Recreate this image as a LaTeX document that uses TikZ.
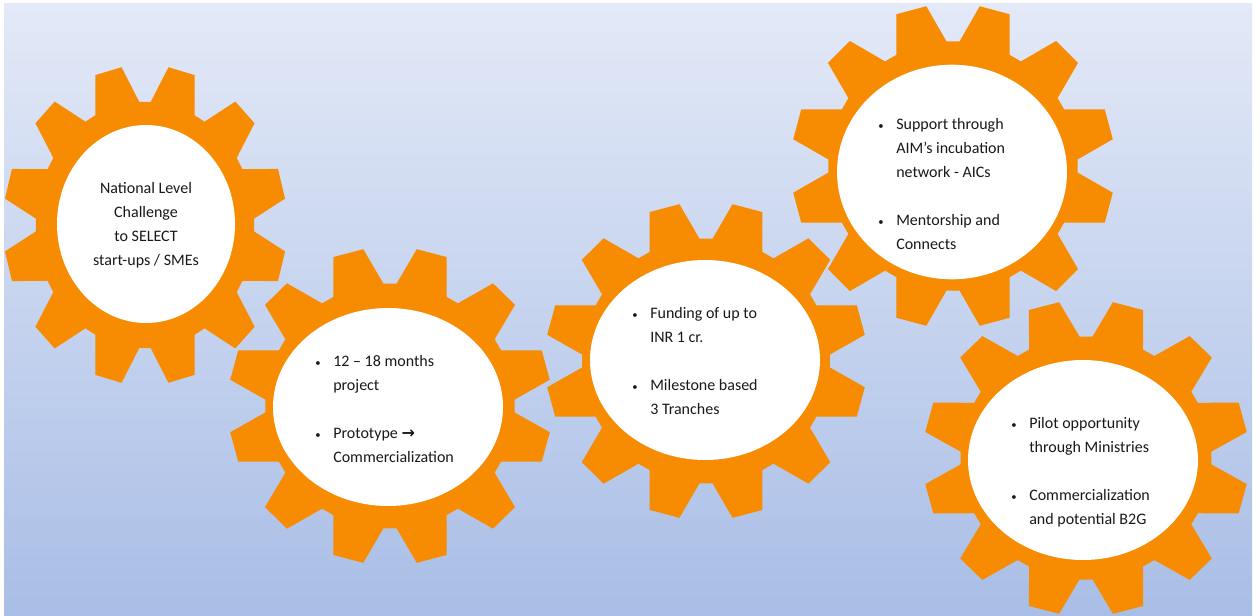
\documentclass[tikz,border=0pt]{standalone}
\usepackage{fontspec}
\setmainfont{Carlito}
\newfontfamily\arrowfont{DejaVu Sans}
\usetikzlibrary{shapes.geometric}

\definecolor{gearorange}{RGB}{247,139,2}
\definecolor{bgtop}{RGB}{227,233,247}
\definecolor{bgbottom}{RGB}{169,190,230}

% gear with 12 teeth: centre x, centre y, x radius, y radius
\newcommand{\drawgear}[4]{%
\fill[gearorange, shift={(#1,#2)}, xscale=#3, yscale=#4]
  (3:0.77) \foreach \a in {15,45,...,345} {-- ({\a-12}:0.77) -- ({\a-5.5}:1) -- ({\a+5.5}:1) -- ({\a+12}:0.77)} -- cycle;
}
% small bullet
\newcommand{\bul}{{\fontsize{8}{8}\selectfont\textbullet}}

\begin{document}
\begin{tikzpicture}[x=0.75pt,y=0.75pt,yscale=-1,xscale=1,
  hole/.style={ellipse, fill=white, inner sep=0pt},
  txt/.style={font=\fontsize{12}{18}\selectfont, text=black!90, inner sep=0pt}]
\useasboundingbox (0,0) rectangle (1260,615);

% Background
\fill[top color=bgtop, bottom color=bgbottom] (4,3) rectangle (1252,615);

% Gears
\drawgear{145}{225}{142}{160}
\drawgear{390}{406}{162}{159}
\drawgear{706}{361}{161}{159}
\drawgear{953}{166}{162}{162}
\drawgear{1086}{458}{163}{158}

% Ellipses
\node[hole, minimum width=133.5pt, minimum height=148.5pt] (e1) at (146,224) {};
\node[hole, minimum width=172.5pt, minimum height=148.5pt] (e2) at (388,407) {};
\node[hole, minimum width=172.5pt, minimum height=150pt] (e3) at (705,360) {};
\node[hole, minimum width=172.5pt, minimum height=161pt] (e4) at (952,172) {};
\node[hole, minimum width=172.5pt, minimum height=150pt] (e5) at (1083,460) {};

% Text Node
\node[txt, align=center] (t1) at (146,225) {National Level\\Challenge\\to SELECT\\start-ups / SMEs};
% Text Node
\node[txt, anchor=west] (t2) at (315,410) {\begin{tabular}{@{}p{13.5pt}@{}l@{}}
\bul & 12 -- 18 months\\ & project\\ & \\
\bul & Prototype {\arrowfont\bfseries →}\\ & Commercialization\end{tabular}};
% Text Node
\node[txt, anchor=west] (t3) at (632,362) {\begin{tabular}{@{}p{13.5pt}@{}l@{}}
\bul & Funding of up to\\ & INR 1 cr.\\ & \\
\bul & Milestone based\\ & 3 Tranches\end{tabular}};
% Text Node
\node[txt, anchor=west] (t4) at (878,185) {\begin{tabular}{@{}p{13.5pt}@{}l@{}}
\bul & Support through\\ & AIM's incubation\\ & network - AICs\\ & \\
\bul & Mentorship and\\ & Connects\end{tabular}};
% Text Node
\node[txt, anchor=west] (t5) at (1011,472) {\begin{tabular}{@{}p{13.5pt}@{}l@{}}
\bul & Pilot opportunity\\ & through Ministries\\ & \\
\bul & Commercialization\\ & and potential B2G\end{tabular}};

\end{tikzpicture}
\end{document}
